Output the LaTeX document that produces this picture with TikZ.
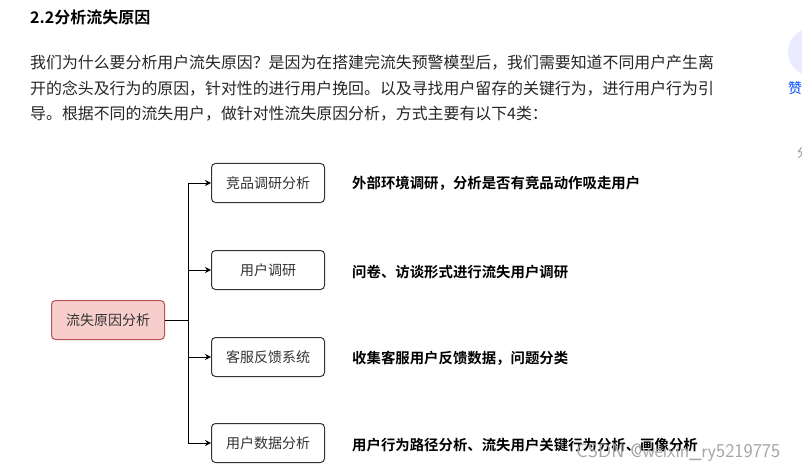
\documentclass[tikz,border=0pt]{standalone}
\usepackage{fontspec}
\usetikzlibrary{arrows.meta}
\setmainfont{Noto Sans CJK SC}[BoldFont={Noto Sans CJK SC Bold}]
\definecolor{pinkf}{HTML}{F8CECC}
\definecolor{pinkd}{HTML}{B85450}
\begin{document}
\begin{tikzpicture}[x=1pt,y=-1pt,
  box/.style={draw=black!80,line width=1pt,rounded corners=4pt,minimum width=113pt,minimum height=39pt,inner sep=0pt,font=\fontsize{14}{14}\selectfont,text=black!80},
  lbl/.style={anchor=west,inner sep=0pt,font=\fontsize{14.4}{14}\selectfont\bfseries},
  body/.style={anchor=west,inner sep=0pt,font=\fontsize{15.9}{16}\selectfont,text=black!85},
  arr/.style={-{Stealth[length=6pt,width=6pt]},line width=1pt}]
\clip (0,0) rectangle (802,473);
\fill[white] (0,0) rectangle (802,473);
\fill[blue!8] (812,52) circle (24);
\node[anchor=west,inner sep=0pt,text=blue!70!cyan,font=\fontsize{14}{14}\selectfont] (zan) at (788,88) {赞};
\node[anchor=west,inner sep=0pt,text=black!45,font=\fontsize{12}{12}\selectfont] (fen) at (797,153) {分};
\node[anchor=west,inner sep=0pt,font=\fontsize{16}{16}\selectfont\bfseries] (h) at (30,17) {2.2分析流失原因};
\node[body] (p1) at (30,63) {我们为什么要分析用户流失原因？是因为在搭建完流失预警模型后，我们需要知道不同用户产生离};
\node[body] (p2) at (30,89) {开的念头及行为的原因，针对性的进行用户挽回。以及寻找用户留存的关键行为，进行用户行为引};
\node[body] (p3) at (30,114) {导。根据不同的流失用户，做针对性流失原因分析，方式主要有以下4类：};
\node[box,fill=pinkf,draw=pinkd] (root) at (108,320) {流失原因分析};
\node[box] (a) at (268,183) {竞品调研分析};
\node[box] (b) at (268,270) {用户调研};
\node[box] (c) at (268,357) {客服反馈系统};
\node[box] (d) at (268,443) {用户数据分析};
\coordinate (j) at (188,320);
\draw[line width=1pt] (root.east) -- (j);
\foreach \n in {a,b,c,d} \draw[arr] (j) |- (\n.west);
\node[lbl] (la) at (352,183) {外部环境调研，分析是否有竞品动作吸走用户};
\node[lbl] (lb) at (352,272) {问卷、访谈形式进行流失用户调研};
\node[lbl] (lc) at (352,358) {收集客服用户反馈数据，问题分类};
\node[lbl] (ld) at (352,445) {用户行为路径分析、流失用户关键行为分析、画像分析};
\node[anchor=west,inner sep=0pt,text=black!35,font=\fontsize{19.5}{20}\selectfont\sffamily] (wm) at (576,453) {CSDN @weixin\_ry5219775};
\end{tikzpicture}
\end{document}
